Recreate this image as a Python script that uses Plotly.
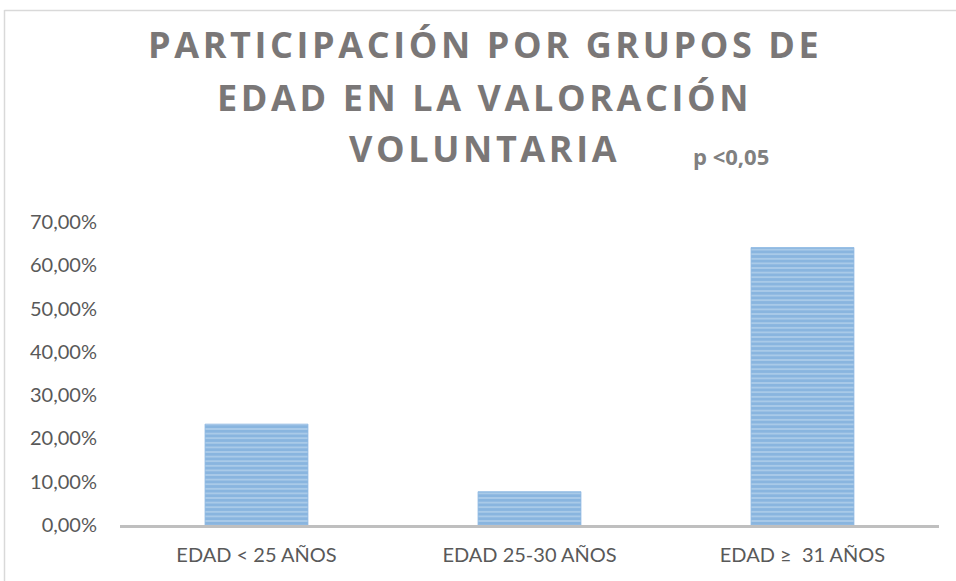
import plotly.graph_objects as go

categories = ["EDAD < 25 AÑOS", "EDAD 25-30 AÑOS", "EDAD ≥  31 AÑOS"]
values = [0.233, 0.077, 0.641]
tick_vals = [0, 0.1, 0.2, 0.3, 0.4, 0.5, 0.6, 0.7]
tick_text = ["0,00%", "10,00%", "20,00%", "30,00%", "40,00%", "50,00%", "60,00%", "70,00%"]
title_lines = ["PARTICIPACIÓN POR GRUPOS DE", "EDAD EN LA VALORACIÓN", "VOLUNTARIA"]
p_text = "p <0,05"

W, H = 956, 581
L, R, T, B = 120, 17, 222, 56
pw, ph = W - L - R, H - T - B

def px(x):
    return (x - L) / pw

def py(y):
    return (H - B - y) / ph

fig = go.Figure(go.Bar(
    x=categories, y=values, width=0.377,
    marker=dict(color="#BDD7EE", line=dict(width=0.8, color="#8DB8E2"),
                pattern=dict(shape="-", fgcolor="#5593D0", bgcolor="#BCD6EE", size=4.6, solidity=0.75)),
))

font_tick = dict(family="Lato, Open Sans, sans-serif", size=20, color="#595959")

fig.update_layout(
    width=W, height=H,
    margin=dict(l=L, r=R, t=T, b=B, autoexpand=False),
    paper_bgcolor="white", plot_bgcolor="white",
    showlegend=False, bargap=0.623,
    xaxis=dict(showline=True, linecolor="#BFBFBF", linewidth=3, showgrid=False, ticks="",
               tickfont=font_tick, fixedrange=True),
    yaxis=dict(range=[0, 0.7], tickvals=tick_vals, ticktext=tick_text, showgrid=False,
               zeroline=False, showline=False, tickfont=font_tick, ticks="", ticklen=0),
)
fig.update_xaxes(ticklabelstandoff=10)
fig.update_yaxes(ticklabelstandoff=22)

title_y = [45, 98, 148]
for line, yc in zip(title_lines, title_y):
    fig.add_annotation(text="<b>" + "\u200a".join(line) + "</b>", x=px(483), y=py(yc),
                       xref="paper", yref="paper", showarrow=False,
                       font=dict(family="Open Sans, sans-serif", size=36, color="#7A7777"),
                       xanchor="center", yanchor="middle")

fig.add_annotation(text="<b>" + p_text + "</b>", x=px(731), y=py(156), xref="paper", yref="paper",
                   showarrow=False, font=dict(family="Open Sans, sans-serif", size=22, color="#808080"),
                   xanchor="center", yanchor="middle")

# outer chart border (partially visible)
fig.add_shape(type="line", x0=px(4.5), x1=px(4.5), y0=py(10), y1=py(600), xref="paper", yref="paper",
              line=dict(color="#D9D9D9", width=1.5))
fig.add_shape(type="line", x0=px(4.5), x1=px(1000), y0=py(10.5), y1=py(10.5), xref="paper", yref="paper",
              line=dict(color="#D9D9D9", width=1.5))

fig.write_html("out.html", config={"displayModeBar": False},
               post_script="document.body.style.margin='0';document.body.style.overflow='hidden';")
